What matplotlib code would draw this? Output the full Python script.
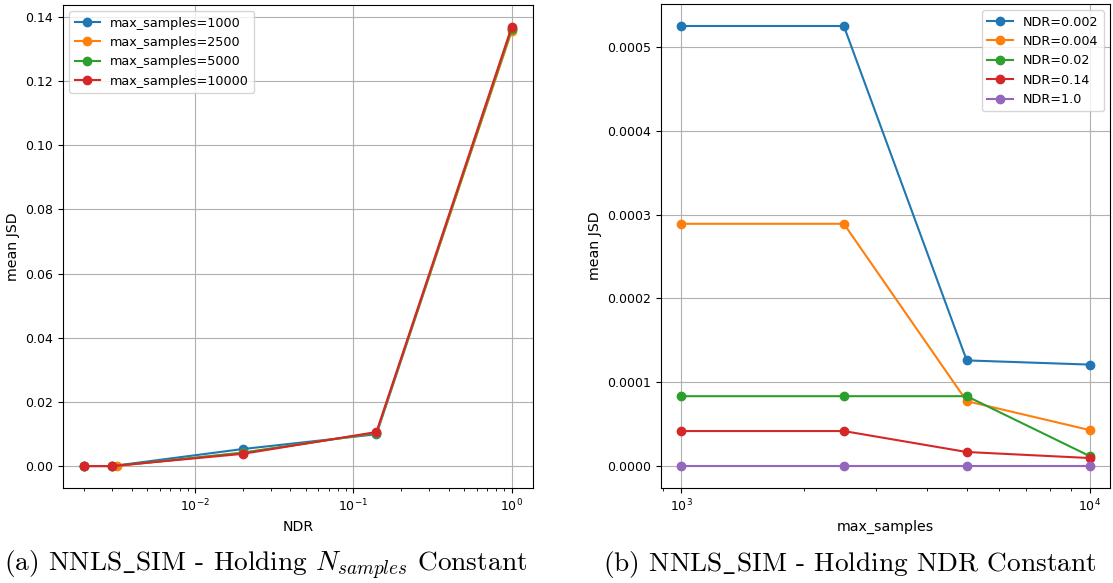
import numpy as np
import matplotlib
matplotlib.use("Agg")
import matplotlib.pyplot as plt

plt.rcParams['mathtext.fontset'] = 'cm'

# left panel: mean JSD vs NDR for each max_samples
ndr_vals = [0.002, 0.003, 0.02, 0.14, 1.0]
ndr_vals_2500 = [0.002, 0.0032, 0.02, 0.14, 1.0]
jsd_1000 = [0.0, 0.0, 0.0053, 0.0099, 0.1362]
jsd_2500 = [0.0, 0.0, 0.0042, 0.0103, 0.1355]
jsd_5000 = [0.0, 0.0, 0.0041, 0.0104, 0.1362]
jsd_10000 = [0.0, 0.0, 0.0038, 0.0106, 0.1369]

# right panel: mean JSD vs max_samples for each NDR
max_samples = [1000, 2500, 5000, 10000]
ndr_002 = [0.000525, 0.000525, 0.000126, 0.000121]
ndr_004 = [0.000289, 0.000289, 0.0000774, 0.0000429]
ndr_02 = [0.0000833, 0.0000833, 0.0000833, 0.0000119]
ndr_14 = [0.0000417, 0.0000417, 0.0000167, 0.0000095]
ndr_1 = [0.0, 0.0, 0.0, 0.0]

tick_fs = 9
label_fs = 10.2
legend_fs = 9.2

fig = plt.figure(figsize=(11.13, 5.83), dpi=100)
ax1 = fig.add_axes([63/1113, 1-488/583, 470/1113, 483/583])
ax2 = fig.add_axes([661/1113, 1-488/583, 449/1113, 484/583])

ax1.plot(ndr_vals, jsd_1000, marker='o', label='max_samples=1000')
ax1.plot(ndr_vals_2500, jsd_2500, marker='o', label='max_samples=2500')
ax1.plot(ndr_vals, jsd_5000, marker='o', label='max_samples=5000')
ax1.plot(ndr_vals, jsd_10000, marker='o', label='max_samples=10000')
ax1.set_xscale('log')
ax1.set_xlabel('NDR', fontsize=label_fs)
ax1.set_ylabel('mean JSD', fontsize=label_fs)
ax1.grid(True)
ax1.legend(loc='upper left', fontsize=legend_fs)
ax1.tick_params(labelsize=tick_fs)

series = [(ndr_002, 'NDR=0.002'), (ndr_004, 'NDR=0.004'), (ndr_02, 'NDR=0.02'),
          (ndr_14, 'NDR=0.14'), (ndr_1, 'NDR=1.0')]
for vals, lab in series:
    ax2.plot(max_samples, vals, marker='o', label=lab)
ax2.set_xscale('log')
ax2.set_xlabel('max_samples', fontsize=label_fs)
ax2.set_ylabel('mean JSD', fontsize=label_fs)
ax2.grid(True)
ax2.legend(loc='upper right', fontsize=legend_fs)
ax2.tick_params(labelsize=tick_fs)

# captions under each panel
fig.text(266/1113, 1-565/583,
         r'$\text{(a) NNLS}\_\text{SIM - Holding }N_{samples}\text{ Constant}$',
         ha='center', va='center', fontsize=19.7)
fig.text(850/1113, 1-565/583,
         r'$\text{(b) NNLS}\_\text{SIM - Holding NDR Constant}$',
         ha='center', va='center', fontsize=19.7)

fig.savefig('out.png', dpi=100)
